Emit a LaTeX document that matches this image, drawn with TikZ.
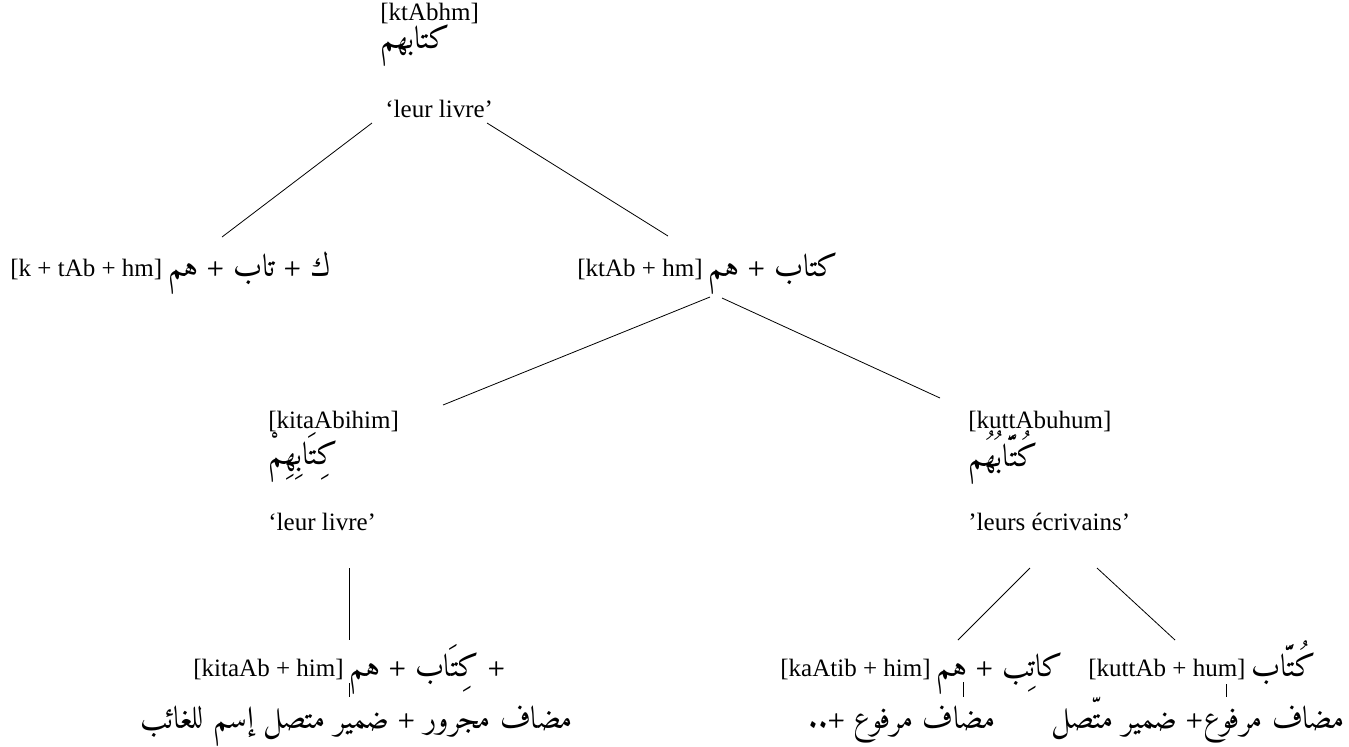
\documentclass[tikz,border=0pt]{standalone}
\usepackage{fontspec}
\setmainfont{Liberation Serif}
\newfontfamily\arabicfont[Script=Arabic,Scale=1.25,RawFeature={-liga;-calt;-rlig;-dlig}]{Amiri-Regular.ttf}
\TeXXeTstate=1

\begin{document}
\begin{tikzpicture}
	[x=0.5pt,y=-0.5pt,every node/.style={inner sep=0pt,anchor=base west,font=\fontsize{12.5}{15}\selectfont},
	ar/.style={font=\fontsize{12.5}{15}\selectfont\arabicfont}]
	\useasboundingbox (0,0) rectangle (1349,746);
	% root
	\node (r0) at (380,20) {[ktAbhm]};
	\node[ar] (r0a) at (380,48) {كتابهم};
	\node (r0g) at (385,117) {`leur livre'};

	% second level
	\node (k1) at (10,276) {[k + tAb + hm] {\arabicfont\beginR ك + تاب + هم\endR}};
	\node (m1) at (577,276) {[ktAb + hm] {\arabicfont\beginR كتاب + هم\endR}};

	% third level
	\node (c1) at (268,428) {[kitaAbihim]};
	\node[ar] (c1a) at (268,464) {كِتَابِهِمْ};
	\node (c1g) at (268,530) {`leur livre'};
	\node (c2) at (968,428) {[kuttAbuhum]};
	\node[ar] (c2a) at (968,466) {كُتَّابُهُم};
	\node (c2g) at (968,530) {'leurs écrivains'};

	% leaves
	\node (d1) at (193,676) {[kitaAb + him] {\arabicfont\beginR + كِتَاب + هم\endR}};
	\node (d2) at (780,676) {[kaAtib + him] {\arabicfont\beginR كاتِب + هم\endR}};
	\node (d3) at (1088,676) {[kuttAb + hum] {\arabicfont كُتَّاب}};
	\node[ar] (e1) at (140,728) {\beginR مضاف مجرور + ضمير متصل إسم للغائب\endR};
	\node[ar,anchor=base east] (e2) at (1345,728) {\beginR مضاف مرفوع\kern0pt+ ضمير متّصل\endR};
	\node[ar] (e3) at (808,728) {\beginR مضاف مرفوع +..\endR};

	% line ends
	\coordinate (r0l) at (372,123);  \coordinate (k1t) at (222,237);
	\coordinate (r0r) at (487,123);  \coordinate (m1t) at (668,236);
	\coordinate (m1l) at (710,297);  \coordinate (c1t) at (443,405);
	\coordinate (m1r) at (722,298);  \coordinate (c2t) at (940,398);
	\coordinate (c1b) at (349,568);  \coordinate (d1t) at (349,640);
	\coordinate (d1b) at (349,683);  \coordinate (e1t) at (349,697);
	\coordinate (c2l) at (1030,568); \coordinate (d2t) at (958,640);
	\coordinate (c2r) at (1097,568); \coordinate (d3t) at (1175,640);
	\coordinate (d2b) at (963,682);  \coordinate (e3t) at (963,697);
	\coordinate (d3b) at (1226,684); \coordinate (e2t) at (1226,697);

	\foreach \from/\to in {r0l/k1t,r0r/m1t,m1l/c1t,m1r/c2t,c1b/d1t,d1b/e1t,c2l/d2t,c2r/d3t,d2b/e3t,d3b/e2t}
	\draw (\from) -- (\to);
\end{tikzpicture}
\end{document}
